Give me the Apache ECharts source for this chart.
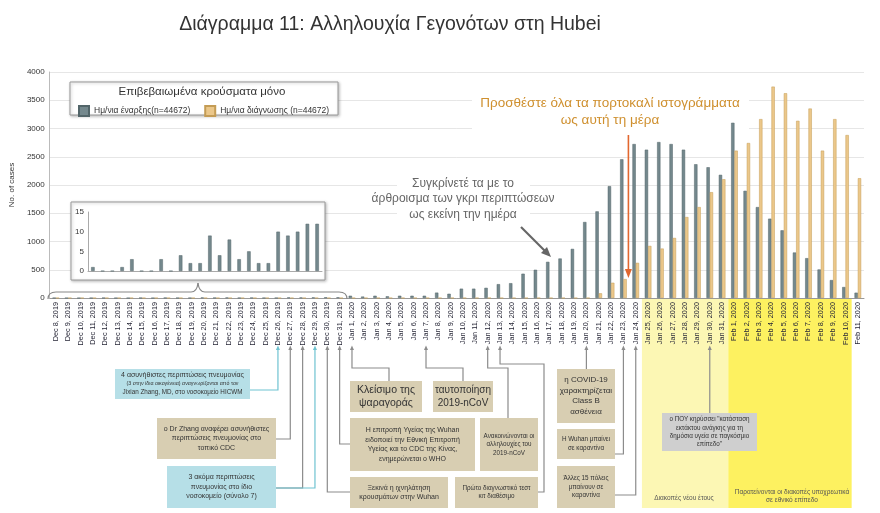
<!DOCTYPE html>
<html>
<head>
<meta charset="utf-8">
<script src="https://cdn.jsdelivr.net/npm/echarts@6/dist/echarts.min.js"></script>
<style>
  html, body { margin: 0; background: #fff; }
  #chart { width: 880px; height: 513px; }
</style>
</head>
<body>
<div id="chart"></div>
<script>
const dates = [
  'Dec 8, 2019', 'Dec 9, 2019', 'Dec 10, 2019', 'Dec 11, 2019', 'Dec 12, 2019', 'Dec 13, 2019',
  'Dec 14, 2019', 'Dec 15, 2019', 'Dec 16, 2019', 'Dec 17, 2019', 'Dec 18, 2019', 'Dec 19, 2019',
  'Dec 20, 2019', 'Dec 21, 2019', 'Dec 22, 2019', 'Dec 23, 2019', 'Dec 24, 2019', 'Dec 25, 2019',
  'Dec 26, 2019', 'Dec 27, 2019', 'Dec 28, 2019', 'Dec 29, 2019', 'Dec 30, 2019', 'Dec 31, 2019',
  'Jan 1, 2020', 'Jan 2, 2020', 'Jan 3, 2020', 'Jan 4, 2020', 'Jan 5, 2020', 'Jan 6, 2020',
  'Jan 7, 2020', 'Jan 8, 2020', 'Jan 9, 2020', 'Jan 10, 2020', 'Jan 11, 2020', 'Jan 12, 2020',
  'Jan 13, 2020', 'Jan 14, 2020', 'Jan 15, 2020', 'Jan 16, 2020', 'Jan 17, 2020', 'Jan 18, 2020',
  'Jan 19, 2020', 'Jan 20, 2020', 'Jan 21, 2020', 'Jan 22, 2020', 'Jan 23, 2020', 'Jan 24, 2020',
  'Jan 25, 2020', 'Jan 26, 2020', 'Jan 27, 2020', 'Jan 28, 2020', 'Jan 29, 2020', 'Jan 30, 2020',
  'Jan 31, 2020', 'Feb 1, 2020', 'Feb 2, 2020', 'Feb 3, 2020', 'Feb 4, 2020', 'Feb 5, 2020',
  'Feb 6, 2020', 'Feb 7, 2020', 'Feb 8, 2020', 'Feb 9, 2020', 'Feb 10, 2020', 'Feb 11, 2020'
];

// ημ/νια έναρξης (γκρι)
const onset = [
  1, 0, 0, 1, 3, 0, 0, 3, 0, 4, 2, 2, 9, 4, 8, 3, 5, 2, 2, 10, 9, 10, 12, 12,
  40, 25, 40, 30, 40, 40, 40, 95, 75, 165, 165, 180, 245, 262, 430, 500, 640, 699, 869, 1345,
  1533, 1980, 2455, 2725, 2625, 2760, 2725, 2625, 2367, 2314, 2180,
  3101, 1897, 1609, 1404, 1198, 805, 705, 505, 317, 194, 94
];

// ημ/νια διάγνωσης (πορτοκαλί)
const diagnosis = [
  0, 0, 0, 0, 0, 0, 0, 0, 0, 0, 0, 0, 0, 0, 0, 0, 0, 0, 0, 0, 0, 0, 0, 0,
  0, 0, 0, 0, 0, 0, 0, 0, 0, 0, 0, 0, 0, 0, 0, 0, 0, 0, 0, 0,
  83, 270, 335, 622, 922, 875, 1063, 1433, 1609, 1873, 2102,
  2608, 2743, 3166, 3741, 3624, 3136, 3353, 2608, 3166, 2884, 2120
];

// ένθετο: μόνο Δεκέμβριος
const insetDates = dates.slice(0, 24);
const insetOnset = onset.slice(0, 24);

const FONT = 'Liberation Sans';
const GRAY = '#74888d';
const ORANGE = '#ebc78a';
const TAN = '#d8ceb2';
const BLUE = '#b6dfe7';

const chart = echarts.init(document.getElementById('chart'));

chart.setOption({
  animation: false,
  backgroundColor: '#fff',
  textStyle: { fontFamily: FONT },
  title: {
    text: 'Διάγραμμα 11: Αλληλουχία Γεγονότων στη Hubei',
    left: 385, top: 10, textAlign: 'center',
    textStyle: { fontSize: 19.5, fontWeight: 'normal', color: '#333', fontFamily: FONT }
  },
  legend: {
    left: 73, top: 100, itemWidth: 10, itemHeight: 10, itemGap: 14, icon: 'rect',
    textStyle: { fontSize: 8.5, color: '#333' },
    data: ['Ημ/νια έναρξης(n=44672)', 'Ημ/νια διάγνωσης (n=44672)']
  },
  grid: [
    { left: 47, top: 72, width: 817, height: 226 },
    { left: 88, top: 212, width: 234, height: 59 }
  ],
  xAxis: [
    {
      type: 'category', gridIndex: 0, data: dates,
      axisLine: { lineStyle: { color: '#999' } },
      axisTick: { show: false },
      axisLabel: { rotate: 90, interval: 0, fontSize: 7.3, margin: 4, color: '#262636' }
    },
    {
      type: 'category', gridIndex: 1, data: insetDates, z: 3,
      axisLine: { lineStyle: { color: '#aaa' } },
      axisTick: { show: false }, axisLabel: { show: false }
    }
  ],
  yAxis: [
    {
      type: 'value', gridIndex: 0, min: 0, max: 4000, interval: 500,
      name: 'No. of cases', nameLocation: 'middle', nameGap: 29,
      nameTextStyle: { fontSize: 8, color: '#333' },
      axisLine: { show: true, lineStyle: { color: '#bbb' } },
      axisLabel: { fontSize: 8, color: '#333', margin: 5, formatter: v => String(v) },
      splitLine: { lineStyle: { color: '#e6e6e6' } }
    },
    {
      type: 'value', gridIndex: 1, min: 0, max: 15, interval: 5, z: 3,
      axisLine: { show: true, lineStyle: { color: '#aaa' } },
      axisLabel: { fontSize: 8, color: '#333', margin: 4 },
      splitLine: { show: false }
    }
  ],
  series: [
    {
      name: 'Ημ/νια έναρξης(n=44672)', type: 'bar', data: onset,
      xAxisIndex: 0, yAxisIndex: 0, barWidth: 3.3, barGap: '0%',
      itemStyle: { color: GRAY, borderColor: '#526569', borderWidth: 0.5 }
    },
    {
      name: 'Ημ/νια διάγνωσης (n=44672)', type: 'bar', data: diagnosis,
      xAxisIndex: 0, yAxisIndex: 0, barWidth: 3.3, barGap: '0%',
      itemStyle: { color: ORANGE, borderColor: '#c49c55', borderWidth: 0.5 }
    },
    {
      name: 'inset', type: 'bar', data: insetOnset, z: 4,
      xAxisIndex: 1, yAxisIndex: 1, barWidth: 3.5,
      itemStyle: { color: GRAY, borderColor: '#526569', borderWidth: 0.5 }
    }
  ]
});

// θέσεις ημερομηνιών σε pixel
const px = i => chart.convertToPixel({ xAxisIndex: 0 }, i);
const idx = d => dates.indexOf(d);
const edge = i => (px(i) + px(i + 1)) / 2;

const g = [];

function txt(text, x, y, size, color, opts) {
  g.push({
    type: 'text', z: 6,
    style: Object.assign({
      text, x, y, align: 'center', verticalAlign: 'middle',
      fontSize: size, fontFamily: FONT, fill: color || '#333', lineHeight: size * 1.25
    }, opts || {})
  });
}

function box(x, y, w, h, fill, text, size, lh) {
  g.push({ type: 'rect', z: 5, shape: { x, y, width: w, height: h }, style: { fill } });
  txt(text, x + w / 2, y + h / 2, size, '#333', { lineHeight: lh || size * 1.3 });
}

function connector(d, yDown, rest, color) {
  const x = px(idx(d));
  const pts = [[x, 349], [x, yDown]].concat(rest);
  g.push({ type: 'polyline', z: 5, shape: { points: pts },
    style: { stroke: color, lineWidth: 1.2, fill: null } });
  g.push({ type: 'polygon', z: 5, shape: { points: [[x, 345.5], [x - 2, 350], [x + 2, 350]] },
    style: { fill: color } });
}

function curve(x1, y1, cx, cy, x2, y2) {
  g.push({ type: 'bezierCurve', z: 2, shape: { x1, y1, cpx1: cx, cpy1: cy, x2, y2 },
    style: { stroke: '#888', lineWidth: 1.2, fill: null } });
}

// κίτρινες περιοχές διακοπών
const lightStart = edge(idx('Jan 24, 2020'));
const lightEnd = edge(idx('Jan 31, 2020'));
const brightEnd = edge(idx('Feb 10, 2020'));
g.push({ type: 'rect', z: -1, shape: { x: lightStart, y: 299, width: lightEnd - lightStart, height: 209 },
  style: { fill: '#fcf7b4' } });
g.push({ type: 'rect', z: -1, shape: { x: lightEnd, y: 299, width: brightEnd - lightEnd, height: 209 },
  style: { fill: '#fdf160' } });
txt('Διακοπές νέου έτους', 684, 498, 6.5, '#555');
txt('Παρατείνονται οι διακοπές υποχρεωτικά\nσε εθνικό επίπεδο', 792, 496, 6.5, '#555');

// πλαίσιο λεζάντας
g.push({ type: 'rect', z: 1, shape: { x: 70, y: 82, width: 268, height: 33 },
  style: { fill: '#fff', stroke: '#999', lineWidth: 1, shadowBlur: 3, shadowColor: 'rgba(0,0,0,0.25)', shadowOffsetX: 1, shadowOffsetY: 1 } });
txt('Επιβεβαιωμένα κρούσματα μόνο', 202, 92, 11.5, '#333');

// ένθετο και αγκύλη
g.push({ type: 'rect', z: 1, shape: { x: 71, y: 202, width: 254, height: 78 },
  style: { fill: '#fff', stroke: '#999', lineWidth: 1, shadowBlur: 3, shadowColor: 'rgba(0,0,0,0.25)', shadowOffsetX: 1, shadowOffsetY: 1 } });
curve(48, 299, 48, 292, 56, 292);
g.push({ type: 'line', z: 2, shape: { x1: 56, y1: 292, x2: 191, y2: 292 }, style: { stroke: '#888', lineWidth: 1.2 } });
curve(191, 292, 197, 292, 198, 283);
curve(198, 283, 199, 292, 205, 292);
g.push({ type: 'line', z: 2, shape: { x1: 205, y1: 292, x2: 339, y2: 292 }, style: { stroke: '#888', lineWidth: 1.2 } });
curve(339, 292, 347, 292, 347, 299);

// γκρι σχόλιο
g.push({ type: 'rect', z: 1, shape: { x: 397, y: 175, width: 133, height: 47 }, style: { fill: '#fff' } });
txt('Συγκρίνετέ τα με το\nάρθροισμα των γκρι περιπτώσεων\nως εκείνη την ημέρα', 463, 199, 12, '#666', { lineHeight: 15.5 });
g.push({ type: 'line', z: 6, shape: { x1: 521, y1: 227, x2: 546, y2: 252 }, style: { stroke: '#666', lineWidth: 2.2 } });
g.push({ type: 'polygon', z: 6, shape: { points: [[551, 257], [541, 253], [547, 247]] }, style: { fill: '#666' } });

// πορτοκαλί σχόλιο
g.push({ type: 'rect', z: 1, shape: { x: 472, y: 93, width: 277, height: 36 }, style: { fill: '#fff' } });
txt('Προσθέστε όλα τα πορτοκαλί ιστογράμματα\nως αυτή τη μέρα', 610, 112, 13.5, '#cf902f', { lineHeight: 17 });
const ax = px(idx('Jan 23, 2020')) + 5;
g.push({ type: 'line', z: 6, shape: { x1: ax, y1: 135, x2: ax, y2: 272 }, style: { stroke: '#e2672f', lineWidth: 1.6 } });
g.push({ type: 'polygon', z: 6, shape: { points: [[ax, 278], [ax - 3.5, 269], [ax + 3.5, 269]] }, style: { fill: '#e2672f' } });

// συνδέσεις
const CY = '#6fc3d1', GR = '#8c8c8c';
connector('Dec 26, 2019', 390, [[250, 390]], CY);
connector('Dec 27, 2019', 439, [[276, 439]], GR);
connector('Dec 28, 2019', 488, [[276, 488]], GR);
connector('Dec 29, 2019', 488, [[276, 488]], CY);
connector('Dec 30, 2019', 492, [[350, 492]], GR);
connector('Dec 31, 2019', 444, [[350, 444]], GR);
connector('Jan 1, 2020', 368, [[389, 368], [389, 381]], GR);
connector('Jan 7, 2020', 368, [[463, 368], [463, 381]], GR);
connector('Jan 12, 2020', 368, [[508, 368], [508, 418]], GR);
connector('Jan 13, 2020', 364, [[544, 364], [544, 492], [538, 492]], GR);
connector('Jan 20, 2020', 369, [], GR);
connector('Jan 23, 2020', 454, [[615, 454]], GR);
connector('Jan 24, 2020', 495, [[615, 495]], GR);
connector('Jan 30, 2020', 413, [], GR);

// πλαίσια γεγονότων
g.push({ type: 'rect', z: 5, shape: { x: 115, y: 369, width: 135, height: 30 }, style: { fill: BLUE } });
txt('4 ασυνήθιστες περιπτώσεις πνευμονίας', 182.5, 375.5, 7);
txt('(3 στην ίδια οικογένεια) αναγνωρίζονται από τον', 182.5, 384, 5.3);
txt('Jixian Zhang, MD, στο νοσοκομείο HICWM', 182.5, 392, 6.3);
box(157, 418, 119, 41, TAN, 'ο Dr Zhang αναφέρει ασυνήθιστες\nπεριπτώσεις πνευμονίας στο\nτοπικό CDC', 7, 9.5);
box(167, 466, 109, 42, BLUE, '3 ακόμα περιπτώσεις\nπνευμονίας στο ίδιο\nνοσοκομείο (σύνολο 7)', 7, 9.5);
box(350, 381, 72, 31, TAN, 'Κλείσιμο της\nψαραγοράς', 10.5, 13);
box(433, 381, 60, 31, TAN, 'ταυτοποίηση\n2019-nCoV', 10, 12.5);
box(350, 418, 125, 53, TAN, 'Η επιτροπή Υγείας της Wuhan\nειδοποιεί την Εθνική Επιτροπή\nΥγείας και το CDC της Κίνας,\nενημερώνεται ο WHO', 7, 9.5);
box(480, 418, 58, 53, TAN, 'Ανακοινώνονται οι\nαλληλουχίες του\n2019-nCoV', 6.3, 8.5);
box(350, 477, 98, 31, TAN, 'Ξεκινά η ιχνηλάτηση\nκρουσμάτων στην Wuhan', 7, 9.5);
box(455, 477, 83, 31, TAN, 'Πρώτο διαγνωστικό τεστ\nκιτ διαθέσιμο', 6.3, 8.5);
box(557, 369, 58, 54, TAN, 'η COVID-19\nχαρακτηρίζεται\nClass B\nασθένεια', 8, 10.5);
box(557, 429, 58, 30, TAN, 'Η Wuhan μπαίνει\nσε καραντίνα', 6.3, 8.5);
box(557, 466, 58, 42, TAN, 'Άλλες 15 πόλεις\nμπαίνουν σε\nκαραντίνα', 6.3, 8.5);
box(662, 413, 95, 38, '#cfcfcf', 'ο ΠΟΥ κηρύσσει "κατάσταση\nεκτάκτου ανάγκης για τη\nδημόσια υγεία σε παγκόσμιο\nεπίπεδο"', 6.3, 8.3);

chart.setOption({ graphic: g });
</script>
</body>
</html>
